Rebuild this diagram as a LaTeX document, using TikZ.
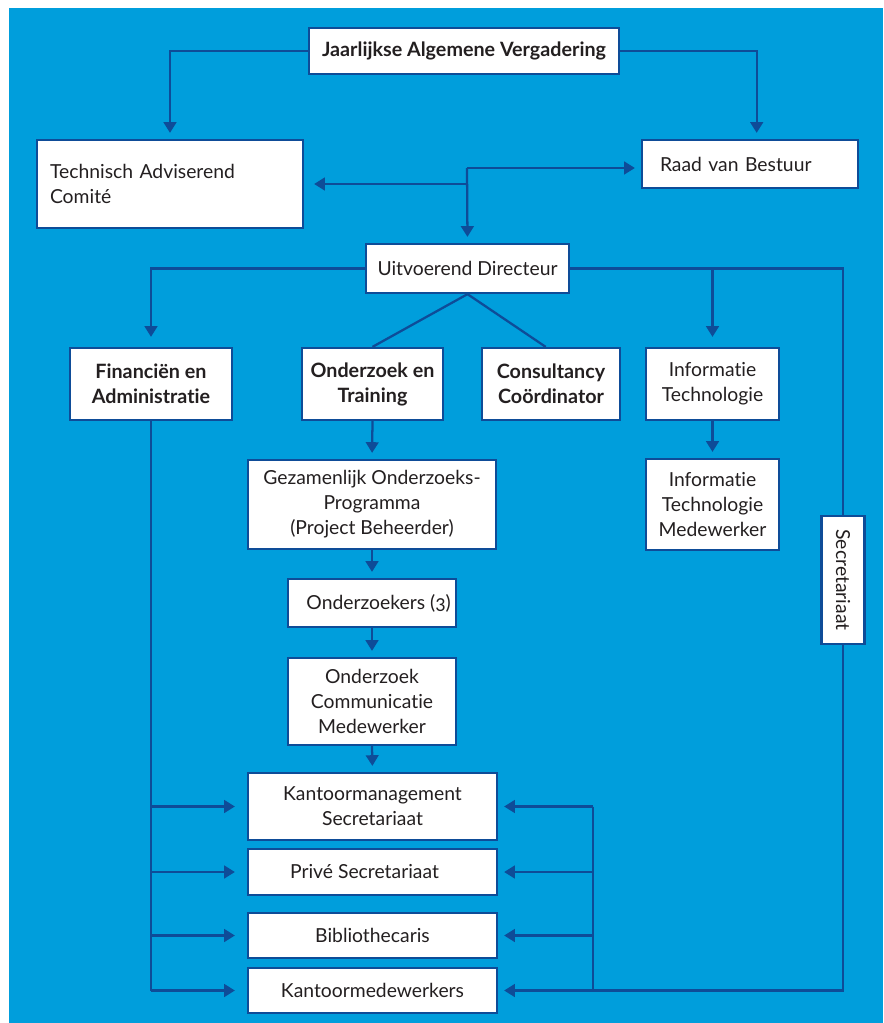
\documentclass[tikz,border=0pt]{standalone}
\usepackage{fontspec}
\usepackage{graphicx}
\setmainfont{Lato}[Numbers=OldStyle,Ligatures=NoCommon]
\usetikzlibrary{arrows.meta,calc}
\definecolor{bgblue}{RGB}{0,158,220}
\definecolor{lnblue}{RGB}{14,76,152}
\definecolor{txtcol}{RGB}{35,31,32}
\newcommand{\dfont}{\fontsize{14.5}{18.75}\selectfont}
\newcommand{\dbfont}{\fontsize{14.8}{18.75}\selectfont\bfseries}
\begin{document}
\begin{tikzpicture}[x=0.75pt,y=-0.75pt,
  bx/.style n args={2}{draw=lnblue, line width=1.7pt, fill=white,
    minimum width=#1*0.75pt, minimum height=#2*0.75pt, inner sep=0pt,
    align=center, font=\dfont, text=txtcol},
  bold/.style={font=\dbfont},
  conn/.style={draw=lnblue, line width=1.7pt},
  arr/.style={conn, -{Triangle[length=8pt,width=9.5pt]}, shorten >=4.5pt},
  arrl/.style={conn, -{Triangle[length=8pt,width=9.5pt]}, shorten >=7.5pt}]
\useasboundingbox (0,0) rectangle (883,1023);
\fill[white] (0,0) rectangle (883,1023);
\fill[bgblue] (9,8) rectangle (883,1023);

% nodes
\node[bx={310}{46}, bold] (jav) at (464,51) {Jaarlijkse Algemene Vergadering};
\node[bx={266}{88}, align=left, text width=240*0.75pt] (tac) at (170,184) {Technisch Adviserend\\Comité};
\node[bx={216}{48}, align=left, text width=180*0.75pt] (rvb) at (750,164) {Raad van Bestuur};
\node[bx={203}{49}] (ud) at (467.5,268.5) {Uitvoerend Directeur};
\node[bx={162}{72}, bold] (fa) at (151,384) {Financiën en\\Administratie};
\node[bx={141}{72}, bold] (oet) at (372.5,384) {Onderzoek en\\Training};
\node[bx={138}{72}, bold] (cc) at (551,384) {Consultancy\\Coördinator};
\node[bx={133}{72}] (it) at (712.5,384) {Informatie\\Technologie};
\node[bx={133}{91}] (itm) at (712.5,504.5) {Informatie\\Technologie\\Medewerker};
\node[bx={43}{128}] (sec) at (843,580) {\rotatebox{-90}{Secretariaat}};
\node[bx={248}{89}] (gop) at (372,504.5) {Gezamenlijk Onderzoeks-\\Programma\\(Project Beheerder)};
\node[bx={168}{48}] (ond) at (372,603) {\hspace*{10pt}Onderzoekers (3)};
\node[bx={168}{87}] (ocm) at (372,701.5) {Onderzoek\\Communicatie\\Medewerker};
\node[bx={249}{67}] (ks) at (372.5,806.5) {Kantoormanagement\\Secretariaat};
\node[bx={249}{46}] (ps) at (372.5,872) {Privé Secretariaat\hspace*{12pt}};
\node[bx={249}{45}] (bib) at (372.5,935.5) {Bibliothecaris};
\node[bx={249}{45}] (km) at (372.5,990.5) {Kantoormedewerkers};

% top connectors
\draw[arr] (jav.west) -| (tac.north);
\draw[arr] (jav.east) -| ([xshift=5pt]rvb.north);
\coordinate (j1) at (467,168);
\draw[arr] (j1) -- (ud.north);
\draw[arr] (j1) -- (j1 -| rvb.west);
\draw[arrl] (j1) |- (tac.east);

% director level
\draw[arrl] (ud.west) -| (fa.north);
\draw[arrl] (ud.east) -| (it.north);
\draw[conn] (ud.east) -| (sec.north);
\draw[conn] (ud.south) -- (oet.north);
\draw[conn] (ud.south) -- ([xshift=-4pt]cc.north);

% chains
\draw[arr] (oet.south) -- (gop.north);
\draw[arr] (gop.south) -- (ond.north);
\draw[arr] (ond.south) -- (ocm.north);
\draw[arr] (ocm.south) -- (ks.north);
\draw[arr] (it.south) -- (itm.north);

% left bus
\coordinate (lb) at (fa.south |- km.west);
\draw[conn] (fa.south) -- (lb);
\foreach \n in {ks,ps,bib,km}{
  \draw[arr, shorten >=9pt] (fa.south |- \n.west) -- (\n.west);
}

% right bus
\coordinate (rb) at (593,806.5);
\coordinate (sb) at (sec.south |- km.east);
\draw[conn] (sec.south) -- (sb) -- (km.east -| rb);
\draw[conn] (rb) -- (rb |- km.east);
\foreach \n in {ks,ps,bib,km}{
  \draw[arr] (rb |- \n.east) -- (\n.east);
}
\end{tikzpicture}
\end{document}
